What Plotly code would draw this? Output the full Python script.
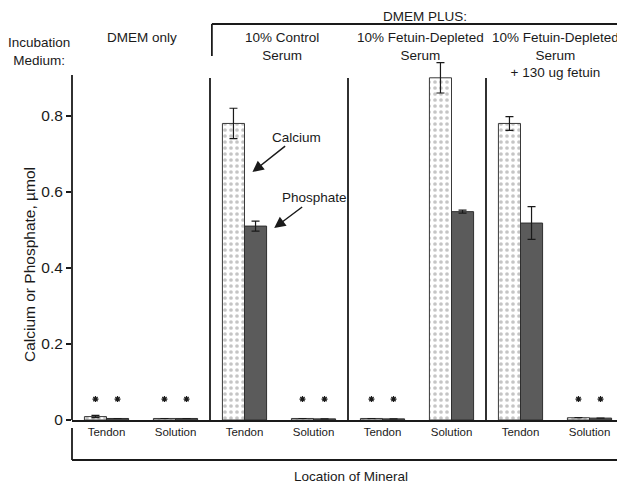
import plotly.graph_objects as go

# ---------------- data ----------------
positions = [0, 1, 2, 3, 4, 5, 6, 7]
location_labels = ["Tendon", "Solution", "Tendon", "Solution",
                   "Tendon", "Solution", "Tendon", "Solution"]
calcium = [0.009, 0.004, 0.78, 0.004, 0.004, 0.90, 0.78, 0.006]
calcium_err = [0.003, 0.0, 0.04, 0.0, 0.0, 0.04, 0.018, 0.0]
phosphate = [0.004, 0.004, 0.51, 0.003, 0.003, 0.548, 0.518, 0.005]
phosphate_err = [0.0, 0.0, 0.013, 0.0, 0.0, 0.004, 0.043, 0.0]
significant = [True, True, False, True, True, False, False, True]
yticks = [0, 0.2, 0.4, 0.6, 0.8]
ytick_text = ["0", "0.2", "0.4", "0.6", "0.8"]
groups = ["DMEM only", "10% Control<br>Serum", "10% Fetuin-Depleted<br>Serum",
          "10% Fetuin-Depleted<br>Serum<br>+ 130 ug fetuin"]

# ---------------- geometry ----------------
OFF = 8  # page body margin of the browser
W, H = 625 - OFF, 483 - OFF
ML, MR, MT, MB = 72 - OFF, 0.5, 55 - OFF, 63
PW, PH = W - ML - MR, H - MT - MB
XR = [-0.5, 7.5]
YR = [0, 0.96]
BARGAP = 0.36
half = (1 - BARGAP) / 4  # centre offset of each bar in a pair


def px(x):
    """reference-picture x pixel -> paper"""
    return (x - OFF - ML) / PW


def py(y):
    """reference-picture y pixel -> paper"""
    return (H - MB - (y - OFF)) / PH


FONT = "Liberation Sans, Arial, sans-serif"
INK = "#1a1a1a"

fig = go.Figure()
fig.add_trace(go.Bar(
    x=positions, y=calcium, name="Calcium",
    error_y=dict(type="data", array=calcium_err, color=INK, thickness=1.2, width=4),
    marker=dict(color="white", line=dict(color="#3a3a3a", width=1),
                pattern=dict(shape=".", fgcolor="#8c8c8c", bgcolor="white",
                             size=6, solidity=0.3)),
))
fig.add_trace(go.Bar(
    x=positions, y=phosphate, name="Phosphate",
    error_y=dict(type="data", array=phosphate_err, color=INK, thickness=1.2, width=4),
    marker=dict(color="#5b5b5b", line=dict(color="#2e2e2e", width=1)),
))

# asterisks over non-detectable values
sx, sy = [], []
for p, s in zip(positions, significant):
    if s:
        sx += [p - half, p + half]
        sy += [0.055, 0.055]
fig.add_trace(go.Scatter(x=sx, y=sy, mode="markers",
                         marker=dict(symbol="asterisk", size=5, color=INK,
                                     line=dict(color=INK, width=1.2)),
                         hoverinfo="skip"))

LW = 1.8
shapes = []
# y axis line
shapes.append(dict(type="line", xref="paper", yref="paper", x0=0, x1=0,
                   y0=0, y1=py(75), line=dict(color=INK, width=LW)))
# group separators
for sep in [1.5, 3.5, 5.5]:
    shapes.append(dict(type="line", xref="x", yref="paper", x0=sep, x1=sep,
                       y0=0, y1=py(78), line=dict(color=INK, width=LW)))
# DMEM PLUS bracket
shapes.append(dict(type="line", xref="paper", yref="paper", x0=px(212), x1=px(630),
                   y0=py(24), y1=py(24), line=dict(color=INK, width=LW)))
shapes.append(dict(type="line", xref="paper", yref="paper", x0=px(212), x1=px(212),
                   y0=py(24), y1=py(56), line=dict(color=INK, width=LW)))
# Location bracket
shapes.append(dict(type="line", xref="paper", yref="paper", x0=px(72), x1=px(72),
                   y0=py(428), y1=py(460), line=dict(color=INK, width=LW)))
shapes.append(dict(type="line", xref="paper", yref="paper", x0=px(72), x1=px(630),
                   y0=py(460), y1=py(460), line=dict(color=INK, width=LW)))

ann = []
tf = dict(family=FONT, size=13.5, color=INK)


def label(text, x, y, **kw):
    d = dict(text=text, xref="paper", yref="paper", x=px(x), y=py(y),
             xanchor="center", yanchor="middle", showarrow=False, font=tf)
    d.update(kw)
    ann.append(d)


label("DMEM PLUS:", 425, 17)
label("Incubation<br>Medium:", 39, 52)
for g, c in zip(groups, [142, 282, 421, 556]):
    label(g, c, 28, yanchor="top")
label("Location of Mineral", 351, 477)
label("Calcium or Phosphate, µmol", 29, 265, textangle=-90,
      font=dict(family=FONT, size=15.5, color=INK))

ann.append(dict(text="Calcium", x=2.115, y=0.652, ax=44, ay=-35,
                showarrow=True, arrowhead=2, arrowsize=1.5, arrowwidth=1.5,
                arrowcolor=INK, font=tf))
ann.append(dict(text="Phosphate", x=2.43, y=0.505, ax=40, ay=-30,
                showarrow=True, arrowhead=2, arrowsize=1.5, arrowwidth=1.5,
                arrowcolor=INK, font=tf))

fig.update_layout(
    width=W, height=H, margin=dict(l=ML, r=MR, t=MT, b=MB, pad=0),
    paper_bgcolor="white", plot_bgcolor="white",
    barmode="group", bargap=BARGAP, bargroupgap=0, showlegend=False,
    font=dict(family=FONT, color=INK),
    shapes=shapes, annotations=ann,
    xaxis=dict(range=XR, tickvals=positions, ticktext=location_labels,
               showline=True, linecolor=INK, linewidth=LW, ticks="",
               showgrid=False, zeroline=False, tickfont=dict(size=11.5, color=INK)),
    yaxis=dict(range=YR, tickvals=yticks, ticktext=ytick_text, showline=False,
               ticks="outside", ticklen=5, tickwidth=1.5, tickcolor=INK,
               showgrid=False, zeroline=False, tickfont=dict(size=15.5, color=INK)),
)

fig.write_html("out.html")
